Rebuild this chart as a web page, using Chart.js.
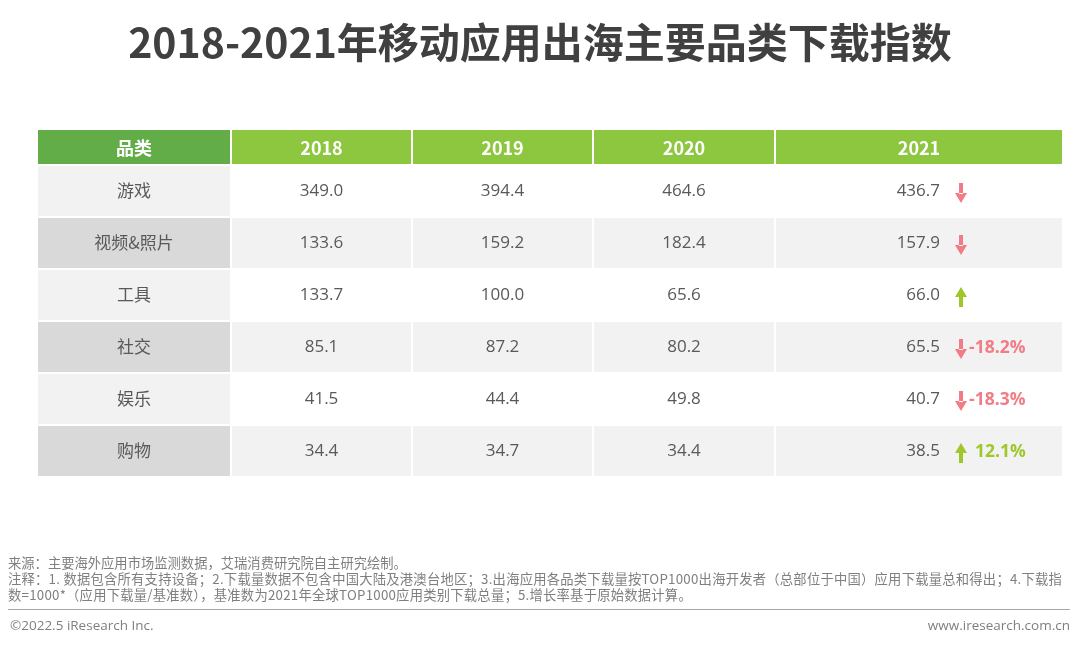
<!DOCTYPE html>
<html lang="zh-CN">
<head>
<meta charset="utf-8">
<title>2018-2021年移动应用出海主要品类下载指数</title>
<script src="https://cdn.jsdelivr.net/npm/chart.js@4.4.1/dist/chart.umd.min.js"></script>
<style>
  html, body { margin: 0; padding: 0; background: #fff; }
  #wrap { position: relative; width: 1080px; height: 645px; overflow: hidden; font-family: "Noto Sans CJK SC", "Noto Sans", sans-serif; }
  #tableChart { position: absolute; left: 0; top: 0; }
  #title { position: absolute; left: 0; top: 12px; width: 1080px; text-align: center; font-size: 41px; font-weight: bold; color: #404040; line-height: 56px; }
  .note { position: absolute; left: 8px; font-size: 13.3px; color: #7f7f7f; line-height: 16px; white-space: nowrap; }
  .note.wide { letter-spacing: 0.24px; }
  #rule { position: absolute; left: 8px; top: 609px; width: 1062px; height: 0; border-top: 1.5px solid #a6a6a6; }
  .foot { position: absolute; top: 615px; font-size: 13.5px; color: #7f7f7f; line-height: 20px; font-family: "Open Sans", "Noto Sans", sans-serif; }
</style>
</head>
<body>
<div id="wrap">
  <canvas id="tableChart" width="1080" height="645"></canvas>
  <div id="title">2018-2021年移动应用出海主要品类下载指数</div>
  <div class="note" style="top:555px">来源：主要海外应用市场监测数据，艾瑞消费研究院自主研究绘制。</div>
  <div class="note wide" style="top:571px">注释：1. 数据包含所有支持设备；2.下载量数据不包含中国大陆及港澳台地区；3.出海应用各品类下载量按TOP1000出海开发者（总部位于中国）应用下载量总和得出；4.下载指</div>
  <div class="note wide" style="top:587px">数=1000*（应用下载量/基准数），基准数为2021年全球TOP1000应用类别下载总量；5.增长率基于原始数据计算。</div>
  <div id="rule"></div>
  <div class="foot" style="left:10px">©2022.5 iResearch Inc.</div>
  <div class="foot" style="right:10px">www.iresearch.com.cn</div>
</div>
<script>
// 表格数据
const headerLabel = '品类';
const categories = ['游戏', '视频&照片', '工具', '社交', '娱乐', '购物'];
const years = ['2018', '2019', '2020', '2021'];
const values2018 = [349.0, 133.6, 133.7, 85.1, 41.5, 34.4];
const values2019 = [394.4, 159.2, 100.0, 87.2, 44.4, 34.7];
const values2020 = [464.6, 182.4, 65.6, 80.2, 49.8, 34.4];
const values2021 = [436.7, 157.9, 66.0, 65.5, 40.7, 38.5];
const growth2021 = [null, null, null, -18.2, -18.3, 12.1];

// 版式
const colEdges = [0, 193, 374, 555, 737, 1024];
const headerHeight = 35;
const RED = '#f27c85';
const GREEN = '#9fc72a';
const TEXT = '#595959';

const yearValues = [values2018, values2019, values2020, values2021];

function cellRange(c) {
  const lo = colEdges[c] + (c === 0 ? 0 : 1);
  const hi = colEdges[c + 1] - (c === colEdges.length - 2 ? 0 : 1);
  return [lo, hi];
}

function cellColor(col, row) {
  if (col === 0) return row % 2 ? '#d9d9d9' : '#f2f2f2';
  return row % 2 ? '#f2f2f2' : '#ffffff';
}

const datasets = colEdges.slice(0, -1).map((_, c) => ({
  label: c === 0 ? headerLabel : years[c - 1],
  data: categories.map(() => cellRange(c)),
  backgroundColor: ctx => cellColor(c, ctx.dataIndex),
  borderWidth: 0,
  borderSkipped: false,
  grouped: false,
  categoryPercentage: 1,
  barPercentage: 50 / 52
}));

function drawArrow(ctx, x, y, up, color) {
  ctx.save();
  ctx.fillStyle = color;
  const top = y - 9, bot = y + 11, head = 10, half = 6;
  ctx.beginPath();
  if (up) {
    ctx.rect(x - 2, top + head - 1, 4, bot - top - head + 1);
    ctx.moveTo(x, top);
    ctx.lineTo(x + half, top + head);
    ctx.lineTo(x - half, top + head);
  } else {
    ctx.rect(x - 2, top, 4, bot - top - head + 1);
    ctx.moveTo(x, bot);
    ctx.lineTo(x + half, bot - head);
    ctx.lineTo(x - half, bot - head);
  }
  ctx.closePath();
  ctx.fill();
  ctx.restore();
}

const tableText = {
  id: 'tableText',
  afterDatasetsDraw(chart) {
    const { ctx, chartArea, scales: { x, y } } = chart;
    ctx.save();
    // 表头
    const hTop = chartArea.top - headerHeight;
    const headers = [headerLabel, ...years];
    headers.forEach((h, c) => {
      const [lo, hi] = cellRange(c);
      const x0 = x.getPixelForValue(lo), x1 = x.getPixelForValue(hi);
      ctx.fillStyle = c === 0 ? '#62ad47' : '#8dc63f';
      ctx.fillRect(x0, hTop, x1 - x0, headerHeight - 1);
      ctx.fillStyle = '#ffffff';
      ctx.font = 'bold 18px "Noto Sans CJK SC", "Open Sans", sans-serif';
      ctx.textAlign = 'center';
      ctx.textBaseline = 'middle';
      ctx.fillText(h, (x0 + x1) / 2, hTop + (headerHeight - 1) / 2 + 1);
    });

    // 表身
    categories.forEach((name, i) => {
      const cy = y.getPixelForValue(i);
      ctx.textBaseline = 'middle';
      ctx.fillStyle = TEXT;
      ctx.textAlign = 'center';
      ctx.font = '17px "Noto Sans CJK SC", sans-serif';
      const [l0, h0] = cellRange(0);
      ctx.fillText(name, (x.getPixelForValue(l0) + x.getPixelForValue(h0)) / 2, cy);

      ctx.font = '17px "Open Sans", "Noto Sans", sans-serif';
      for (let c = 1; c <= 3; c++) {
        const [lo, hi] = cellRange(c);
        ctx.fillText(yearValues[c - 1][i].toFixed(1), (x.getPixelForValue(lo) + x.getPixelForValue(hi)) / 2, cy);
      }

      // 2021 列
      const v = values2021[i];
      ctx.textAlign = 'right';
      ctx.fillText(v.toFixed(1), x.getPixelForValue(colEdges[4] + 165), cy);
      const up = v > values2020[i];
      const color = up ? GREEN : RED;
      drawArrow(ctx, x.getPixelForValue(colEdges[4] + 186), cy + 1, up, color);
      if (growth2021[i] !== null) {
        ctx.textAlign = 'left';
        ctx.fillStyle = color;
        ctx.font = 'bold 17.5px "Open Sans", "Noto Sans", sans-serif';
        const g = growth2021[i];
        const label = (g < 0 ? '-' : '') + Math.abs(g).toFixed(1) + '%';
        const gx = x.getPixelForValue(colEdges[4] + (g < 0 ? 194 : 200));
        ctx.fillText(label, gx, cy + 1);
      }
    });
    ctx.restore();
  }
};

new Chart(document.getElementById('tableChart'), {
  type: 'bar',
  data: { labels: categories, datasets },
  options: {
    indexAxis: 'y',
    responsive: false,
    animation: false,
    events: [],
    layout: { padding: { left: 38, right: 18, top: 165, bottom: 168 } },
    plugins: { legend: { display: false }, tooltip: { enabled: false }, title: { display: false } },
    scales: {
      x: { type: 'linear', min: 0, max: 1024, display: false },
      y: { type: 'category', display: false, grid: { display: false } }
    }
  },
  plugins: [tableText]
});
</script>
</body>
</html>
